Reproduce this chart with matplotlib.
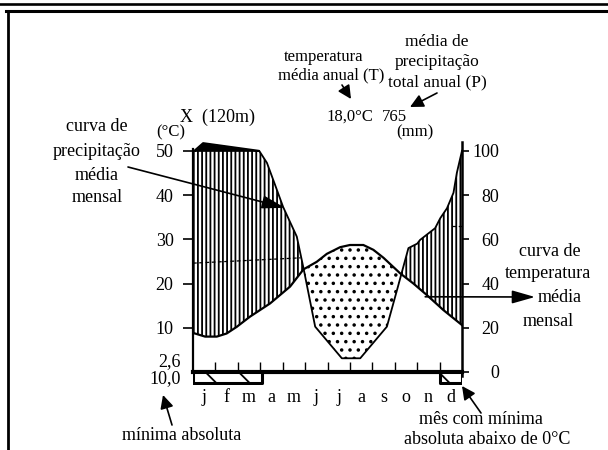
import matplotlib
matplotlib.use('Agg')
import matplotlib.pyplot as plt
import numpy as np
from matplotlib.lines import Line2D

# fonte serifada (tipo Times)
plt.rcParams['font.family'] = ['Liberation Serif', 'DejaVu Serif']
plt.rcParams['hatch.linewidth'] = 1.3

W, H = 608, 450

# curva de temperatura média mensal (posição em meses, °C)
temp_pos = [0.0, 0.09, 0.54, 1.06, 1.5, 1.95, 2.54, 3.44, 4.33, 4.93, 5.52, 5.97,
            6.56, 7.0, 7.6, 8.05, 8.5, 9.24, 9.83, 10.43, 11.17, 12.0]
temp_val = [8.8, 8.7, 8.0, 8.0, 8.7, 10.2, 12.5, 15.5, 19.3, 23.2, 24.9, 26.7,
            28.2, 28.7, 28.7, 27.6, 25.8, 22.3, 20.0, 17.4, 14.0, 10.6]

# curva de precipitação média mensal (posição em meses, mm)
prec_pos = [0.0, 0.45, 2.95, 3.3, 3.66, 4.02, 4.63, 4.93, 5.45, 6.64, 7.46, 8.65,
            9.1, 9.61, 10.0, 10.13, 10.8, 11.03, 11.33, 11.62, 11.77, 12.0]
prec_val = [99.5, 103.5, 100.0, 94.5, 84.6, 74.6, 61.2, 46.9, 20.5, 6.2, 6.2, 20.5,
            37.0, 56.0, 58.0, 59.7, 65.0, 69.5, 74.0, 81.0, 90.0, 100.0]

# linha tracejada (escala reduzida)
trac_esq_pos = [0.0, 4.8]
trac_esq_val = [24.6, 25.8]
trac_dir_pos = [11.55, 12.0]
trac_dir_val = [32.9, 32.9]

meses = ['j', 'f', 'm', 'a', 'm', 'j', 'j', 'a', 's', 'o', 'n', 'd']
temp_ticks = [10, 20, 30, 40, 50]
prec_ticks = [0, 20, 40, 60, 80, 100]

# meses com mínima absoluta abaixo de 0 °C
geada = [(0.0, 3.1), (11.0, 12.0)]
geada_fundo = -2.4

estacao = 'X  (120m)'
t_anual = '18,0°C'
p_anual = '765'
min_media = '2,6'
min_absoluta = '10,0'


def fx(x):
    return x / W


def fy(y):
    return 1 - y / H


fig = plt.figure(figsize=(W / 100, H / 100), dpi=100)

# eixo da temperatura: 0 °C em y=372 px, 4,425 px por °C
y_lo, y_hi = -3, 53
bot_px = 372 + 3 * 4.425
top_px = 372 - 53 * 4.425
ax = fig.add_axes([fx(193), fy(bot_px), 269 / W, (bot_px - top_px) / H])
ax.set_xlim(0, 12)
ax.set_ylim(y_lo, y_hi)

ug = np.linspace(0, 12, 2401)
tg = np.interp(ug, temp_pos, temp_val)
pg = np.interp(ug, prec_pos, prec_val) / 2  # 10 °C = 20 mm

# período úmido
ax.fill_between(ug, tg, np.minimum(pg, 50), where=pg >= tg, interpolate=True,
                facecolor='none', edgecolor='black', hatch='||||', linewidth=0)
# período seco
ax.fill_between(ug, pg, tg, where=pg < tg, interpolate=True,
                facecolor='none', edgecolor='black', hatch='..', linewidth=0)
# acima de 100 mm
ax.fill_between(ug, 50, pg, where=pg > 50, interpolate=True,
                color='black', linewidth=0.8)

ax.plot(temp_pos, temp_val, color='black', lw=1.6)
ax.plot(prec_pos, np.array(prec_val) / 2, color='black', lw=1.3)
ax.plot(trac_esq_pos, trac_esq_val, color='black', lw=0.9, dashes=(3, 2))
ax.plot(trac_dir_pos, trac_dir_val, color='black', lw=0.9, dashes=(3, 2))

# meses de geada
for a, b in geada:
    ax.fill_between([a, b], [geada_fundo, geada_fundo], [0, 0], facecolor='white',
                    edgecolor='black', hatch='\\', linewidth=2.2, zorder=3)

# eixos
ax.spines['top'].set_visible(False)
ax.spines['right'].set_visible(False)
ax.spines['bottom'].set_position(('data', 0))
ax.spines['bottom'].set_linewidth(3)
ax.spines['left'].set_linewidth(1.6)
ax.spines['left'].set_bounds(0, 50.3)

ax.set_xticks(range(1, 12))
ax.tick_params(axis='x', which='major', direction='in', length=7, width=1,
               labelbottom=False)
ax.set_xticks(np.arange(12) + 0.5, minor=True)
ax.set_xticklabels(meses, minor=True, fontsize=13)
ax.tick_params(axis='x', which='minor', length=0, pad=12)

ax.set_yticks(temp_ticks)
ax.set_yticklabels([str(v) for v in temp_ticks], fontsize=13)
ax.tick_params(axis='y', direction='out', length=7, width=1.2, pad=7)

ax2 = ax.twinx()
ax2.set_ylim(y_lo * 2, y_hi * 2)
for s in ['top', 'bottom', 'left']:
    ax2.spines[s].set_visible(False)
ax2.spines['right'].set_linewidth(1.8)
ax2.spines['right'].set_bounds(-2, 104)
ax2.set_yticks(prec_ticks)
ax2.set_yticklabels([str(v) for v in prec_ticks], fontsize=13)
ax2.tick_params(axis='y', direction='out', length=5, width=1.2, pad=22)
for lbl in ax2.get_yticklabels():
    lbl.set_horizontalalignment('right')


def linhas(x, ys, textos, size=13, ha='center'):
    for y, t in zip(ys, textos):
        fig.text(fx(x), fy(y), t, ha=ha, va='center', fontsize=size)


# textos
linhas(97, [127, 151, 175, 198], ['curva de', 'precipitação', 'média', 'mensal'])
linhas(324, [57], ['temperatura'], size=12)
linhas(331, [75], ['média anual (T)'], size=12)
linhas(437, [42, 62, 82], ['média de', 'precipitação', 'total anual (P)'], size=12.5)
linhas(217, [117], [estacao])
linhas(350, [117], [t_anual], size=12)
linhas(394, [117], [p_anual], size=12)
linhas(415, [132], ['(mm)'], size=12)
linhas(171, [132], ['(°C)'], size=12)
linhas(181, [362], [min_media], ha='right')
linhas(181, [379], [min_absoluta], ha='right')
linhas(550, [252], ['curva de'])
linhas(548, [274], ['temperatura'])
linhas(560, [297], ['média'])
linhas(548, [321], ['mensal'])
linhas(182, [436], ['mínima absoluta'])
linhas(481, [419], ['mês com mínima'])
linhas(487, [439], ['absoluta abaixo de 0°C'])

# setas
seta = dict(arrowstyle='-|>,head_length=0.7,head_width=0.2', color='black',
            lw=1.2, shrinkA=0, shrinkB=0, mutation_scale=20)
seta_p = dict(arrowstyle='-|>,head_length=0.5,head_width=0.25', color='black',
              lw=1.2, shrinkA=0, shrinkB=0, mutation_scale=16)

ax.annotate('', xy=(4.1, 37.1), xycoords='data',
            xytext=(fx(128), fy(167)), textcoords='figure fraction', arrowprops=seta)
ax.annotate('', xy=(fx(535), fy(297)), xycoords='figure fraction',
            xytext=(10.36, 17.0), textcoords='data', arrowprops=seta)
fig.add_artist(plt.Annotation('', xy=(fx(351), fy(99)), xycoords='figure fraction',
                              xytext=(fx(342), fy(85)), textcoords='figure fraction',
                              arrowprops=seta_p))
fig.add_artist(plt.Annotation('', xy=(fx(410), fy(107)), xycoords='figure fraction',
                              xytext=(fx(437), fy(93)), textcoords='figure fraction',
                              arrowprops=seta_p))
fig.add_artist(plt.Annotation('', xy=(fx(163), fy(395)), xycoords='figure fraction',
                              xytext=(fx(172), fy(425)), textcoords='figure fraction',
                              arrowprops=seta_p))
fig.add_artist(plt.Annotation('', xy=(fx(462), fy(386)), xycoords='figure fraction',
                              xytext=(fx(481), fy(413)), textcoords='figure fraction',
                              arrowprops=seta_p))

# moldura
fig.add_artist(Line2D([0, 1], [fy(3.8), fy(3.8)], transform=fig.transFigure,
                      color='black', lw=1.9))
fig.add_artist(Line2D([fx(6), 1], [fy(10.8), fy(10.8)], transform=fig.transFigure,
                      color='black', lw=2.2))
fig.add_artist(Line2D([fx(8), fx(8)], [fy(10.8), 0], transform=fig.transFigure,
                      color='black', lw=2.0))

fig.savefig('out.png', dpi=100)
